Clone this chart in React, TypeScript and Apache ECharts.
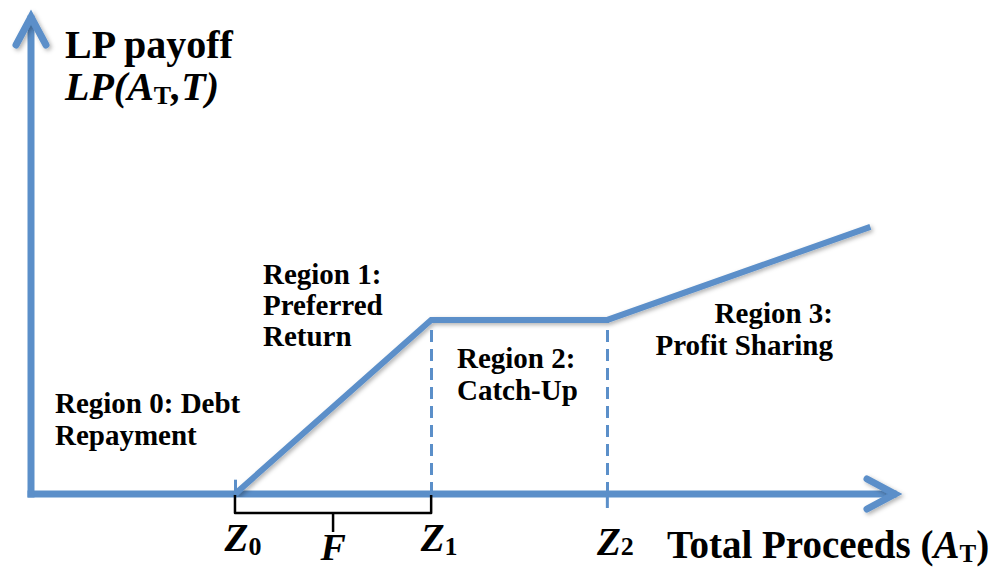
import React, { useEffect, useRef } from 'react';
import * as echarts from 'echarts';

const BLUE = '#5b8fc9';
const FONT = '"Liberation Serif", "Times New Roman", serif';

// threshold points on the Total Proceeds axis (Z0, Z1, Z2)
const thresholdSubs = ['0', '1', '2'];
const thresholdValues = [23.5, 46.1, 66.4];
// LP payoff piecewise-linear curve
const payoffX = [23.5, 46.1, 66.4, 96.7];
const payoffY = [0, 36.5, 36.5, 56.0];
// region annotations
const regionTexts = [
  'Region 0: Debt\nRepayment',
  'Region 1:\nPreferred\nReturn',
  'Region 2:\nCatch-Up',
  'Region 3:\nProfit Sharing',
];

const shadow = {
  shadowColor: 'rgba(0,0,0,0.3)',
  shadowBlur: 4,
  shadowOffsetX: 2,
  shadowOffsetY: 2,
};

export default function App() {
  const ref = useRef<HTMLDivElement>(null);
  useEffect(() => {
    document.body.style.margin = '0';
    const chart = echarts.init(ref.current!, null, { renderer: 'svg' });
    const zRich = {
      z: { fontFamily: FONT, fontSize: 39, fontWeight: 'bold', fontStyle: 'italic', color: '#000', lineHeight: 44 },
      s: { fontFamily: FONT, fontSize: 26, fontWeight: 'bold', color: '#000', lineHeight: 10, verticalAlign: 'bottom' },
      zb: { fontFamily: FONT, fontSize: 39, fontWeight: 'bold', fontStyle: 'italic', color: '#000', lineHeight: 44, padding: [8, 0, 0, 0] },
      sb: { fontFamily: FONT, fontSize: 26, fontWeight: 'bold', color: '#000', lineHeight: 10, verticalAlign: 'bottom', padding: [8, 0, 0, 0] },
    };
    const option: any = {
      animation: false,
      grid: { left: 31, right: 99, top: 17, bottom: 73 },
      xAxis: {
        type: 'value',
        min: 0,
        max: 100,
        splitLine: { show: false },
        axisTick: { show: false },
        axisLine: { show: false },
        axisLabel: {
          show: true,
          customValues: thresholdValues,
          margin: 21,
          padding: [0, 0, 0, 16],
          formatter: (v: number) => {
            const i = thresholdValues.indexOf(v);
            if (i < 0) return '';
            return i === 2 ? `{zb|Z}{sb|${thresholdSubs[i]}}` : `{z|Z}{s|${thresholdSubs[i]}}`;
          },
          rich: zRich,
        },
      },
      yAxis: {
        type: 'value',
        min: 0,
        max: 100,
        splitLine: { show: false },
        axisTick: { show: false },
        axisLabel: { show: false },
        axisLine: { show: false },
      },
      series: [
        {
          type: 'line',
          data: payoffX.map((x, i) => [x, payoffY[i]]),
          symbol: 'none',
          lineStyle: { color: BLUE, width: 6, join: 'miter', ...shadow },
          z: 3,
          markLine: {
            silent: true,
            symbol: 'none',
            label: { show: false },
            lineStyle: { color: BLUE, width: 3, type: [12, 7] },
            data: [
              [{ coord: [thresholdValues[1], 0] }, { coord: [thresholdValues[1], payoffY[1]] }],
              [{ coord: [thresholdValues[2], 0] }, { coord: [thresholdValues[2], payoffY[2]] }],
              [
                { coord: [thresholdValues[0], 0], lineStyle: { type: 'solid', width: 3 } },
                { coord: [thresholdValues[0], 3] },
              ],
            ],
          },
        },
      ],
    };
    chart.setOption(option);

    const p = (x: number, y: number) => chart.convertToPixel({ gridIndex: 0 }, [x, y]) as number[];
    const o = p(0, 0);
    const xe = p(100, 0);
    const ye = p(0, 100);
    const z0 = p(thresholdValues[0], 0);
    const z1 = p(thresholdValues[1], 0);
    const z2 = p(thresholdValues[2], 0);
    const hv = [xe[0] - 4, o[1]];
    const vv = [o[0], ye[1]];
    const braceY = o[1] + 19;
    const mid = (z0[0] + z1[0]) / 2;
    const txt = (text: string, x: number, y: number, align = 'left', size = 29, lh = 32) => ({
      type: 'text',
      x,
      y,
      style: {
        text,
        fill: '#000',
        fontFamily: FONT,
        fontSize: size,
        fontWeight: 'bold',
        lineHeight: lh,
        align,
        verticalAlign: 'top',
      },
    });
    const richBase = { fontFamily: FONT, fontSize: 40, fontWeight: 'bold', fill: '#000', lineHeight: 44 };
    const axisStyle = { stroke: BLUE, lineWidth: 7, lineCap: 'square' };
    chart.setOption({
      graphic: [
        {
          type: 'line',
          shape: { x1: o[0], y1: o[1], x2: hv[0] - 2, y2: o[1] },
          style: axisStyle,
        },
        {
          type: 'line',
          shape: { x1: o[0], y1: o[1], x2: o[0], y2: vv[1] + 2 },
          style: axisStyle,
        },
        {
          type: 'line',
          shape: { x1: z2[0], y1: o[1], x2: z2[0], y2: o[1] + 14 },
          style: { stroke: BLUE, lineWidth: 3 },
        },
        {
          type: 'polyline',
          shape: { points: [[hv[0] - 28, hv[1] - 15], hv, [hv[0] - 28, hv[1] + 15]] },
          style: { stroke: BLUE, lineWidth: 7, fill: null, lineJoin: 'miter', lineCap: 'round', ...shadow },
        },
        {
          type: 'polyline',
          shape: { points: [[vv[0] - 15, vv[1] + 28], vv, [vv[0] + 15, vv[1] + 28]] },
          style: { stroke: BLUE, lineWidth: 7, fill: null, lineJoin: 'miter', lineCap: 'round', ...shadow },
        },
        {
          type: 'polyline',
          shape: { points: [[z0[0], o[1] + 1], [z0[0], braceY], [z1[0], braceY], [z1[0], o[1] + 1]] },
          style: { stroke: '#000', lineWidth: 2.5, fill: null, lineJoin: 'round' },
          z: 10,
        },
        {
          type: 'line',
          shape: { x1: mid, y1: braceY, x2: mid, y2: braceY + 19 },
          style: { stroke: '#000', lineWidth: 2.5 },
          z: 10,
        },
        {
          type: 'text',
          x: mid,
          y: 547,
          style: {
            text: 'F',
            fill: '#000',
            fontFamily: FONT,
            fontSize: 38,
            fontWeight: 'bold',
            fontStyle: 'italic',
            align: 'center',
            verticalAlign: 'middle',
          },
        },
        txt('LP payoff', 65, 22, 'left', 40, 44),
        {
          type: 'text',
          x: 65,
          y: 64,
          style: {
            text: '{i|LP(A}{s|T}{i|,T)}',
            align: 'left',
            verticalAlign: 'top',
            rich: {
              i: { ...richBase, fontStyle: 'italic' },
              s: { ...richBase, fontSize: 26, lineHeight: 10, verticalAlign: 'bottom' },
            },
          },
        },
        {
          type: 'text',
          x: 667,
          y: 522,
          style: {
            text: '{n|Total Proceeds (}{i|A}{s|T}{n|)}',
            align: 'left',
            verticalAlign: 'top',
            rich: {
              n: { ...richBase, fontSize: 39 },
              i: { ...richBase, fontSize: 39, fontStyle: 'italic' },
              s: { ...richBase, fontSize: 25, lineHeight: 12, verticalAlign: 'bottom' },
            },
          },
        },
        txt(regionTexts[0], 55, 387),
        txt(regionTexts[1], 263, 258, 'left', 29, 31),
        txt(regionTexts[2], 457, 342),
        txt(regionTexts[3], 833, 297, 'right'),
      ],
    });
    return () => chart.dispose();
  }, []);
  return <div ref={ref} style={{ width: 998, height: 567 }} />;
}
